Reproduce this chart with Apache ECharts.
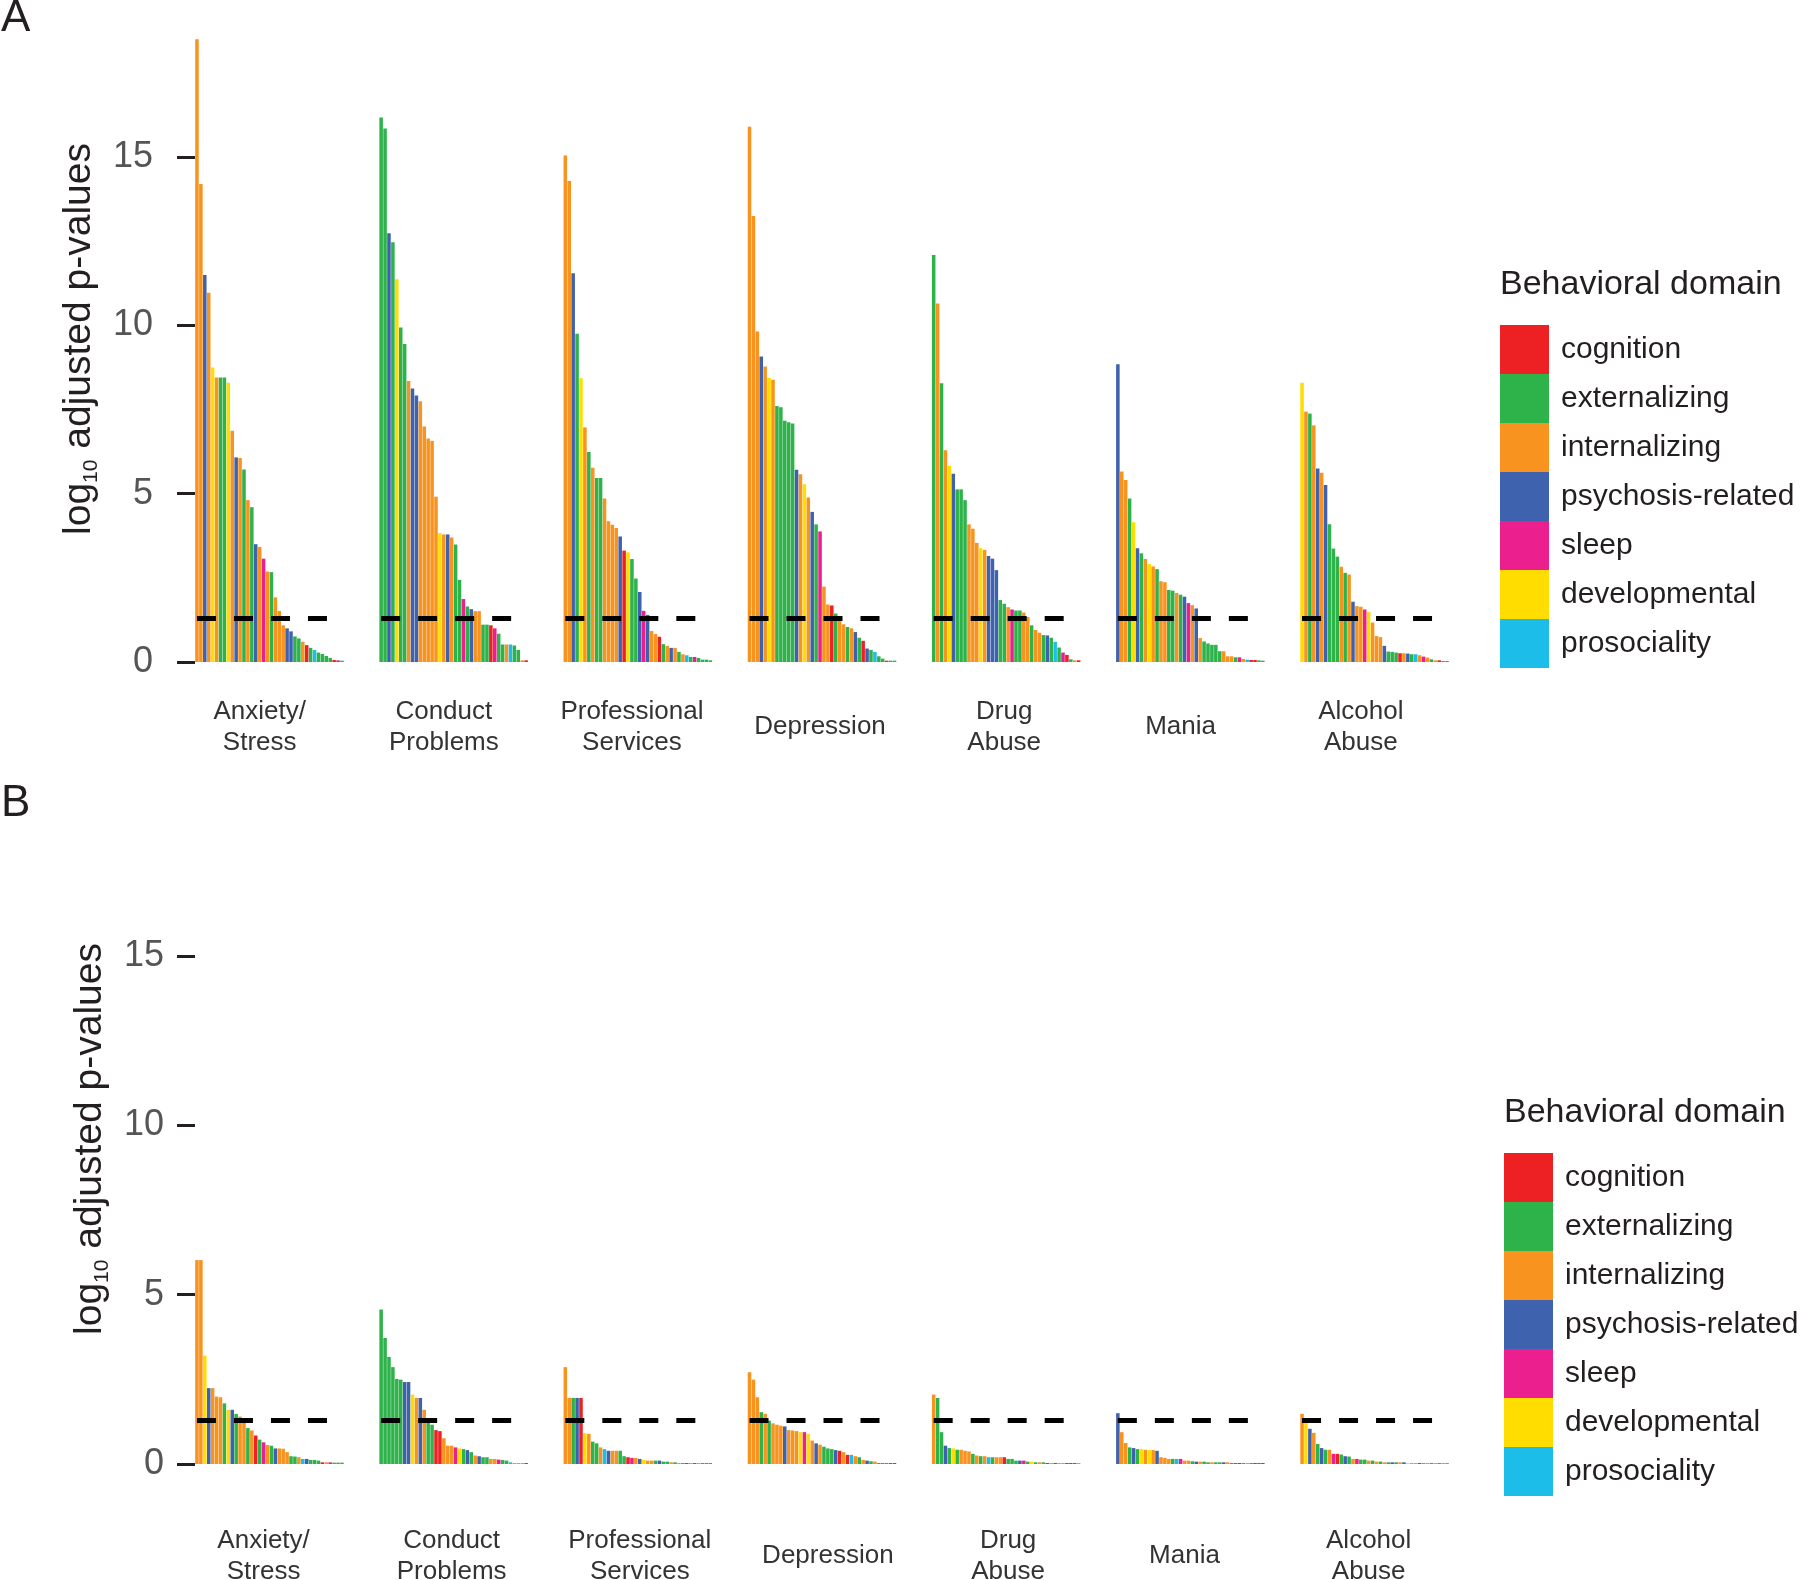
<!DOCTYPE html>
<html><head><meta charset="utf-8">
<script src="https://cdn.jsdelivr.net/npm/echarts@6/dist/echarts.min.js"></script>
<style>html,body{margin:0;padding:0;background:#fff}#c{width:1800px;height:1580px}</style>
</head><body><div id="c"></div>
<script>
// ---------- shared ----------
const DOMAINS = ['cognition','externalizing','internalizing','psychosis-related','sleep','developmental','prosociality'];
const DOMAIN_CODES = ['C','E','I','P','S','D','R'];
const DOMAIN_COLORS = ['#ED2024','#2DB34A','#F7931E','#3F62AE','#EC1F8E','#FFDD00','#1DBDEA'];
const GROUP_LABELS = ['Anxiety/\nStress','Conduct\nProblems','Professional\nServices','Depression','Drug\nAbuse','Mania','Alcohol\nAbuse'];
const THRESHOLD = 1.3;
const Y_TICKS = [0,5,10,15];
const Y_MAX = 18.6;

// ---------- panel A ----------
const anxietyA = [18.5,14.2,11.5,10.97,8.75,8.45,8.45,8.45,8.3,6.87,6.08,6.06,5.72,4.81,4.6,3.5,3.42,3.07,2.69,2.67,1.92,1.52,1.09,1.0,0.91,0.76,0.7,0.6,0.5,0.42,0.36,0.28,0.24,0.18,0.12,0.06,0.05,0.04];
const anxietyADom = ['I','I','P','I','D','I','E','E','D','I','P','I','E','I','E','P','I','S','I','E','I','I','I','P','P','E','E','I','C','E','R','E','E','E','E','C','S','E'];
const conductA = [16.18,15.85,12.74,12.47,11.37,9.94,9.45,8.35,8.13,7.92,7.75,7.0,6.64,6.57,4.91,3.83,3.79,3.79,3.70,3.49,2.44,1.87,1.65,1.57,1.51,1.51,1.11,1.11,1.09,1.0,0.84,0.52,0.52,0.52,0.49,0.36,0.05,0.05];
const conductADom = ['E','E','P','E','D','E','E','I','P','P','I','I','I','I','I','D','I','P','I','E','E','S','E','P','I','I','E','E','C','S','E','E','I','R','E','E','I','C'];
const profA = [15.05,14.29,11.55,9.75,8.43,6.97,6.24,5.77,5.47,5.47,4.86,4.18,4.08,3.98,3.73,3.31,3.26,3.06,2.48,2.08,1.52,1.40,0.92,0.83,0.75,0.53,0.48,0.42,0.42,0.30,0.23,0.20,0.15,0.15,0.12,0.07,0.07,0.05];
const profADom = ['I','I','P','E','D','I','E','I','E','E','I','I','I','I','P','C','D','E','E','P','S','P','I','I','C','E','I','P','I','E','I','R','E','S','E','E','E','E'];
const depA = [15.9,13.25,9.82,9.08,8.78,8.44,8.39,7.61,7.57,7.17,7.12,7.09,5.71,5.58,5.28,4.89,4.46,4.09,3.88,2.24,1.71,1.68,1.44,1.34,1.12,1.04,1.0,0.89,0.72,0.63,0.40,0.36,0.30,0.17,0.10,0.04,0.04,0.04];
const depADom = ['I','I','I','P','I','D','I','E','E','E','E','E','P','I','D','I','P','E','S','I','I','C','E','I','I','E','I','P','E','C','P','E','R','E','E','S','E','E'];
const drugA = [12.09,10.65,8.28,6.29,5.82,5.59,5.13,5.13,4.81,4.09,3.96,3.54,3.38,3.33,3.15,3.07,2.73,1.84,1.73,1.63,1.56,1.53,1.53,1.47,1.34,1.09,0.95,0.87,0.80,0.79,0.72,0.60,0.43,0.28,0.21,0.08,0.05,0.05];
const drugADom = ['E','I','E','I','D','P','E','E','E','I','I','I','D','I','P','P','P','E','E','I','S','E','E','I','I','E','I','I','E','P','E','R','E','S','C','E','I','C'];
const maniaA = [8.85,5.66,5.41,4.86,4.15,3.38,3.23,3.06,2.91,2.84,2.76,2.40,2.37,2.14,2.12,2.05,2.0,1.94,1.75,1.69,1.59,0.71,0.61,0.55,0.51,0.51,0.32,0.32,0.17,0.17,0.14,0.14,0.09,0.07,0.06,0.06,0.05,0.04];
const maniaADom = ['P','I','I','E','D','P','E','I','D','I','E','I','I','E','E','I','E','P','S','I','P','I','E','E','E','E','E','I','I','I','E','S','I','R','C','C','E','E'];
const alcoholA = [8.30,7.44,7.38,7.03,5.75,5.62,5.26,4.09,3.37,3.13,2.83,2.65,2.60,1.79,1.66,1.64,1.56,1.49,1.17,0.77,0.74,0.48,0.31,0.30,0.28,0.26,0.26,0.25,0.23,0.23,0.20,0.16,0.13,0.08,0.05,0.05,0.03,0.03];
const alcoholADom = ['D','I','E','I','P','I','P','E','E','E','I','E','I','P','I','I','S','D','I','I','I','P','E','E','E','C','I','P','E','R','I','S','I','E','I','C','E','E'];

// ---------- panel B ----------
const anxietyB = [6.02,6.02,3.2,2.24,2.24,1.99,1.97,1.79,1.6,1.6,1.48,1.40,1.30,1.06,0.99,0.84,0.72,0.64,0.56,0.54,0.46,0.46,0.45,0.35,0.23,0.22,0.20,0.15,0.15,0.12,0.12,0.10,0.05,0.05,0.05,0.04,0.04,0.04];
const anxietyBDom = ['I','I','D','P','I','I','I','E','D','P','E','I','I','E','I','C','E','S','I','E','P','I','I','I','E','E','I','R','P','E','E','E','C','I','S','E','E','E'];
const conductB = [4.56,3.72,3.16,2.86,2.51,2.49,2.42,2.42,2.05,1.95,1.95,1.60,1.33,1.16,1.0,0.97,0.76,0.54,0.54,0.49,0.46,0.44,0.41,0.35,0.25,0.23,0.20,0.20,0.15,0.15,0.13,0.12,0.10,0.05,0.03,0.03,0.03,0.03];
const conductBDom = ['E','E','E','E','E','E','P','P','D','I','P','I','E','E','C','C','I','I','I','S','D','E','P','E','I','P','E','E','I','I','S','E','E','R','I','I','I','C'];
const profB = [2.86,1.95,1.95,1.95,1.95,0.91,0.89,0.66,0.61,0.49,0.44,0.39,0.39,0.39,0.39,0.23,0.20,0.18,0.18,0.15,0.12,0.10,0.10,0.10,0.10,0.07,0.07,0.05,0.05,0.03,0.03,0.03,0.03,0.03,0.03,0.03,0.03,0.03];
const profBDom = ['I','I','E','P','C','D','I','E','E','I','R','P','I','I','E','E','C','S','I','P','D','I','I','E','P','E','E','I','E','I','E','P','I','S','I','E','E','E'];
const depB = [2.71,2.49,1.97,1.53,1.48,1.28,1.20,1.16,1.13,1.11,1.0,0.99,0.97,0.94,0.94,0.89,0.69,0.61,0.57,0.51,0.46,0.44,0.41,0.39,0.35,0.27,0.27,0.23,0.20,0.12,0.10,0.08,0.07,0.03,0.03,0.03,0.03,0.03];
const depBDom = ['I','I','I','E','I','E','I','I','I','P','I','I','I','D','S','D','I','P','I','E','E','E','P','C','I','C','R','I','E','I','P','E','I','E','E','E','S','P'];
const drugB = [2.05,1.95,0.94,0.54,0.47,0.46,0.42,0.42,0.39,0.37,0.30,0.25,0.23,0.23,0.20,0.20,0.20,0.20,0.20,0.15,0.15,0.10,0.10,0.10,0.07,0.07,0.05,0.05,0.05,0.03,0.03,0.03,0.03,0.03,0.03,0.03,0.03,0.03];
const drugBDom = ['I','E','E','P','E','D','E','I','I','I','E','I','E','I','R','E','I','I','C','E','E','E','P','S','E','D','E','I','E','C','I','P','I','I','P','P','S','I'];
const maniaB = [1.50,0.94,0.62,0.49,0.47,0.44,0.44,0.42,0.41,0.41,0.39,0.20,0.18,0.15,0.15,0.15,0.15,0.10,0.10,0.08,0.07,0.07,0.07,0.05,0.05,0.05,0.05,0.05,0.05,0.03,0.03,0.03,0.03,0.03,0.03,0.03,0.03,0.03];
const maniaBDom = ['P','I','I','E','P','E','D','I','D','I','P','I','I','I','E','R','S','I','I','E','P','I','E','E','I','E','E','P','I','E','S','C','E','I','E','C','S','P'];
const alcoholB = [1.48,1.33,1.04,0.92,0.59,0.47,0.42,0.42,0.30,0.30,0.28,0.23,0.22,0.15,0.15,0.13,0.13,0.10,0.10,0.07,0.07,0.05,0.05,0.05,0.05,0.05,0.05,0.03,0.03,0.03,0.03,0.03,0.03,0.03,0.03,0.03,0.03,0.03];
const alcoholBDom = ['I','D','P','I','E','P','E','I','S','C','E','P','E','I','S','E','E','I','E','I','E','I','E','P','E','I','P','D','I','I','C','R','I','E','I','E','I','R'];

// ---------- build ----------
const GAP_CATS = 9;
const FONT = '"Liberation Sans", Arial, sans-serif';
const INK = '#231f20';

const LAYOUT = [
  { grid: { left: 195, width: 1254, top: 36, height: 626 }, labelMargin: 42, nameGap: 90, xMargin: 65,
    labelShift: [-2, -2, -1, 0, 0, -2, -3],
    legend: { left: 1500, top: 325 }, title: { x: 1500, y: 285 }, letter: { text: 'A', x: 1, y: -3 } },
  { grid: { left: 195, width: 1254, top: 834, height: 630 }, labelMargin: 31, nameGap: 80, xMargin: 92,
    labelShift: [-1, 0, 1, 2, 1, -1, -1],
    legend: { left: 1504, top: 1153 }, title: { x: 1504, y: 1113 }, letter: { text: 'B', x: 1, y: 782 } }
];

function buildPanel(vals, doms, shift) {
  const cats = [], perDomain = DOMAIN_CODES.map(() => []), labelAt = {}, ranges = [];
  vals.forEach((arr, g) => {
    const start = cats.length;
    arr.forEach((v, i) => {
      cats.push('g' + g + '_' + i);
      DOMAIN_CODES.forEach((code, d) => perDomain[d].push(doms[g][i] === code ? v : null));
    });
    ranges.push([start, cats.length - 1]);
    labelAt[start + Math.floor(arr.length / 2) - 1 + shift[g]] = GROUP_LABELS[g];
    if (g < vals.length - 1) {
      for (let k = 0; k < GAP_CATS; k++) { cats.push('gap' + g + '_' + k); perDomain.forEach(a => a.push(null)); }
    }
  });
  return { cats, perDomain, labelAt, ranges };
}

const PA = buildPanel([anxietyA, conductA, profA, depA, drugA, maniaA, alcoholA],
  [anxietyADom, conductADom, profADom, depADom, drugADom, maniaADom, alcoholADom], LAYOUT[0].labelShift);
const PB = buildPanel([anxietyB, conductB, profB, depB, drugB, maniaB, alcoholB],
  [anxietyBDom, conductBDom, profBDom, depBDom, drugBDom, maniaBDom, alcoholBDom], LAYOUT[1].labelShift);
const PANELS = [PA, PB];

const grids = [], xAxes = [], yAxes = [], series = [], legends = [], graphics = [];
PANELS.forEach((P, p) => {
  const L = LAYOUT[p];
  grids.push(Object.assign({ outerBoundsMode: 'none', containLabel: false }, L.grid));
  xAxes.push({
    type: 'category', gridIndex: p, data: P.cats, boundaryGap: true,
    axisLine: { show: false }, axisTick: { show: false }, splitLine: { show: false },
    axisLabel: {
      interval: (idx) => Object.prototype.hasOwnProperty.call(P.labelAt, idx),
      formatter: (v, idx) => P.labelAt[idx] || '',
      fontFamily: FONT, fontSize: 26, lineHeight: 31, color: '#333',
      align: 'center', verticalAlign: 'middle', margin: L.xMargin, hideOverlap: false
    }
  });
  yAxes.push({
    type: 'value', gridIndex: p, min: 0, max: Y_MAX, interval: 5,
    axisLine: { show: false }, splitLine: { show: false },
    axisTick: { show: true, length: 18, lineStyle: { color: INK, width: 3 }, customValues: Y_TICKS },
    axisLabel: { customValues: Y_TICKS, fontFamily: FONT, fontSize: 36, color: '#555', margin: L.labelMargin,
      formatter: (v) => (Y_TICKS.indexOf(v) >= 0 ? String(v) : '') },
    name: '{t|log}{s|10}{t| adjusted p-values}',
    nameLocation: 'middle', nameGap: L.nameGap, nameRotate: 90,
    nameTextStyle: {
      padding: [0, 0, 0, 20],
      rich: {
        t: { fontFamily: FONT, fontSize: 39, color: INK, lineHeight: 46, verticalAlign: 'middle' },
        s: { fontFamily: FONT, fontSize: 21, color: INK, lineHeight: 46, verticalAlign: 'bottom' }
      }
    }
  });
  DOMAINS.forEach((name, d) => {
    const s = {
      type: 'bar', name, xAxisIndex: p, yAxisIndex: p, data: P.perDomain[d],
      barGap: '-100%', barCategoryGap: '10%', silent: true,
      itemStyle: { color: DOMAIN_COLORS[d], borderWidth: 0 }
    };
    if (d === 0) {
      s.markLine = {
        silent: true, symbol: 'none', label: { show: false }, z: 10,
        lineStyle: { color: '#000', width: 5, type: [19, 18] },
        emphasis: { disabled: true },
        data: P.ranges.map(r => [{ coord: [r[0], THRESHOLD] }, { coord: [r[1], THRESHOLD] }])
      };
    }
    series.push(s);
  });
  legends.push({
    orient: 'vertical', left: L.legend.left, top: L.legend.top, padding: 0,
    itemWidth: 49, itemHeight: 49, itemGap: 0, icon: 'rect', selectedMode: false,
    data: DOMAINS,
    textStyle: { fontFamily: FONT, fontSize: 30, color: INK, padding: [0, 0, 0, 7] }
  });
  graphics.push({ type: 'text', x: L.title.x, y: L.title.y, silent: true,
    style: { text: 'Behavioral domain', font: '34px ' + FONT, fill: INK, align: 'left', verticalAlign: 'middle' } });
  graphics.push({ type: 'text', x: L.letter.x, y: L.letter.y, silent: true,
    style: { text: L.letter.text, font: '44px ' + FONT, fill: INK, align: 'left', verticalAlign: 'top' } });
});

const chart = echarts.init(document.getElementById('c'), null, { renderer: 'canvas' });
chart.setOption({
  animation: false,
  backgroundColor: '#fff',
  grid: grids, xAxis: xAxes, yAxis: yAxes, series, legend: legends, graphic: graphics
});
</script></body></html>
